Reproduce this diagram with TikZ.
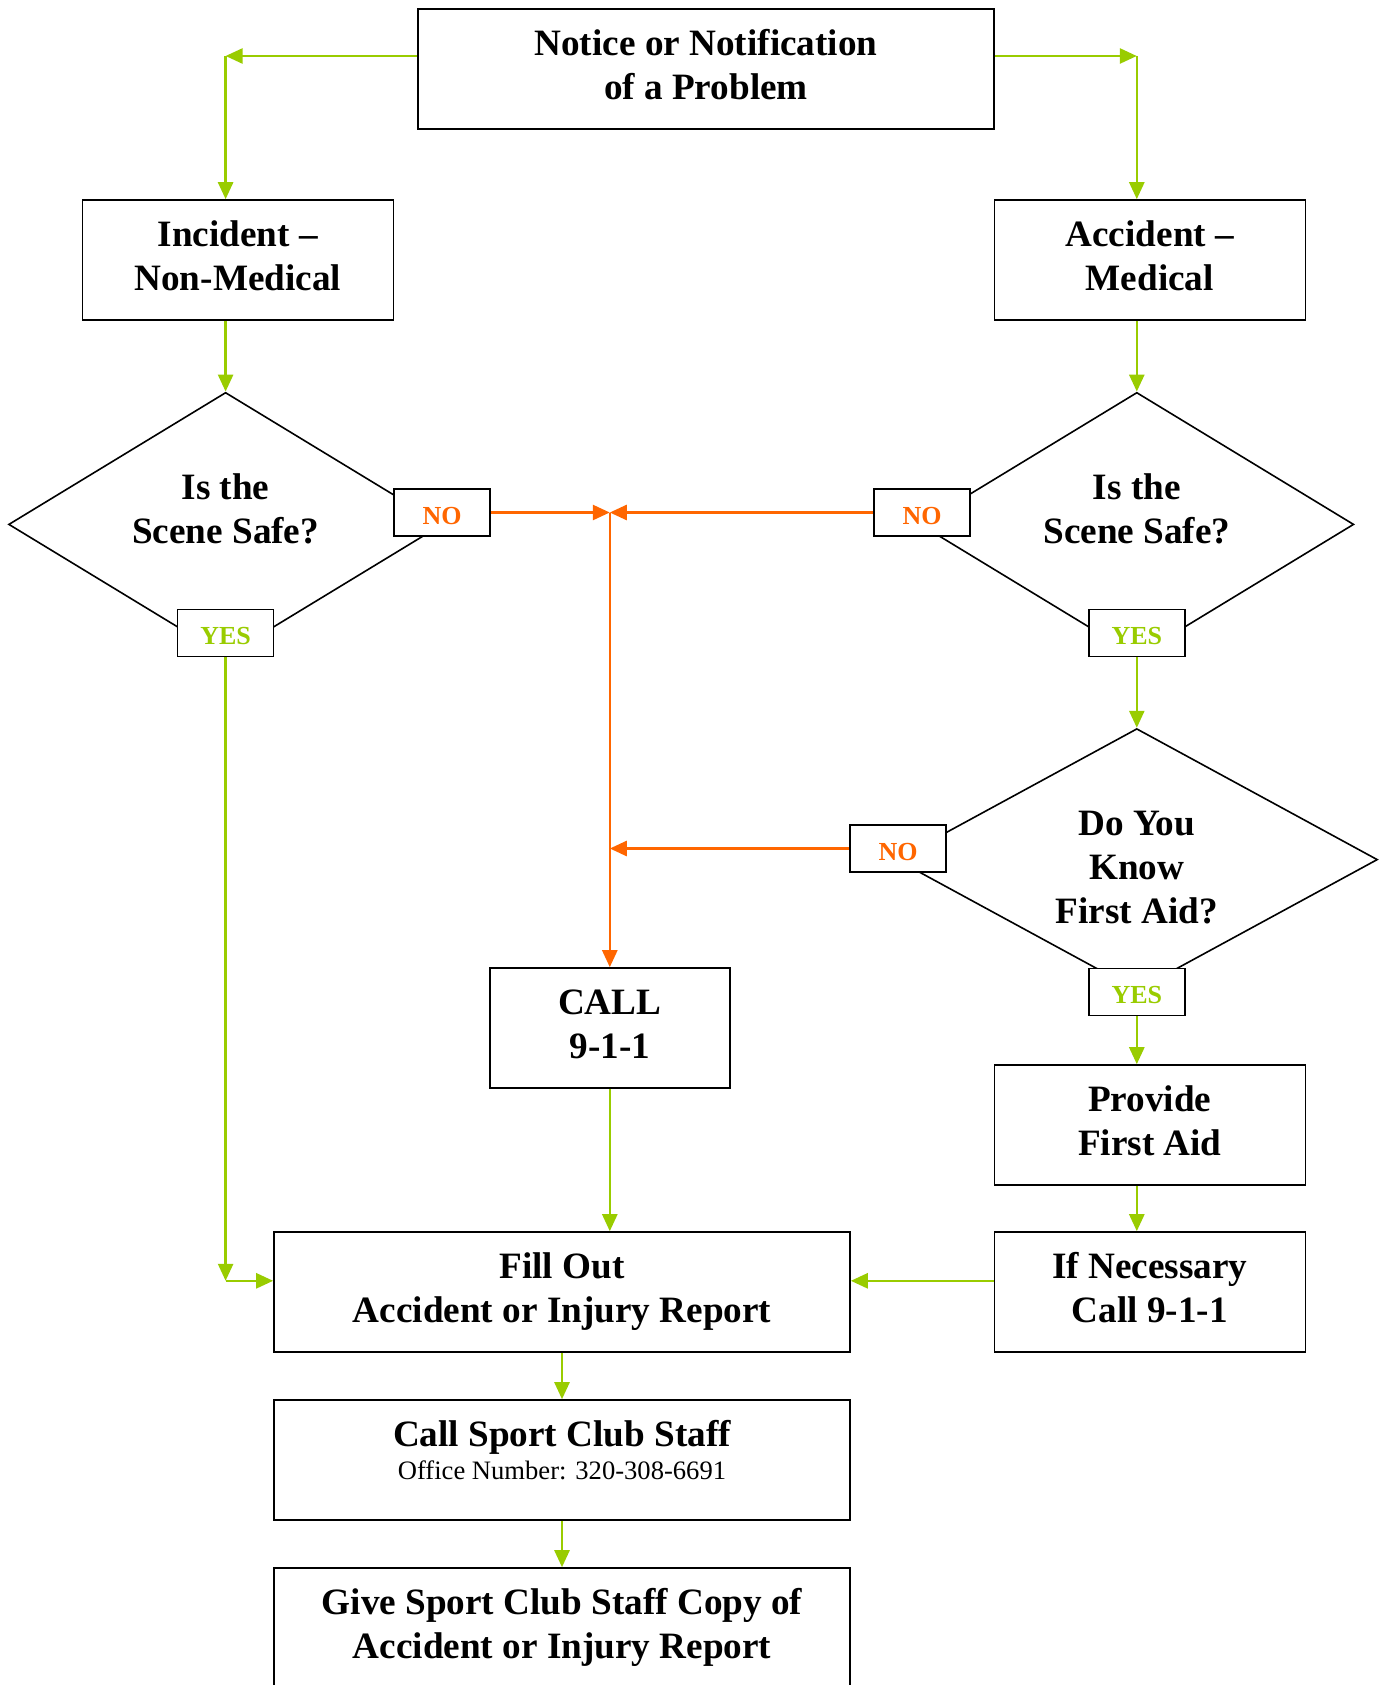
\documentclass[tikz,border=0pt]{standalone}
\usepackage{fontspec}
\setmainfont{Liberation Serif}
\usetikzlibrary{shapes.geometric,arrows.meta}
\definecolor{grn}{HTML}{99CC00}
\definecolor{org}{HTML}{FF6600}
\newcommand\bxt[2]{\parbox[c][60pt][t]{#1}{\centering\rule{0pt}{23.3pt}#2}}
\tikzset{
  box/.style={draw, line width=0.8pt, fill=white, inner sep=0pt,
    font=\fontsize{18.6}{22}\selectfont\bfseries},
  dia/.style={draw, diamond, line width=0.8pt, inner sep=0pt},
  dtxt/.style={align=center, inner sep=0pt, font=\fontsize{18.6}{22}\selectfont\bfseries},
  tag/.style={draw, line width=0.8pt, fill=white, inner sep=0pt, text height=11.8pt, text depth=0pt,
    minimum width=48pt, minimum height=23.5pt, font=\fontsize{13}{15}\selectfont\bfseries},
  yes/.style={tag, text=grn},
  no/.style={tag, text=org},
  garr/.style={draw=grn, line width=1.3pt, -{Triangle[length=8.5pt,width=7.5pt]}},
  oarr/.style={draw=org, line width=1.3pt, -{Triangle[length=8.5pt,width=7.5pt]}}
}
\begin{document}
\begin{tikzpicture}[x=0.5pt,y=-0.5pt]
\useasboundingbox (0,0) rectangle (1384,1685);
\clip (0,0) rectangle (1384,1685);

% boxes
\node[box] (top) at (706,68.8) {\bxt{288pt}{Notice or Notification\\of a Problem}};
\node[box] (inc) at (237.8,260) {\bxt{155.5pt}{Incident --\\Non-Medical}};
\node[box] (acc) at (1149.8,260) {\bxt{155.5pt}{Accident --\\Medical}};
\node[box] (call) at (609.8,1028) {\bxt{120pt}{CALL\\9-1-1}};
\node[box] (prov) at (1149.8,1125) {\bxt{155.5pt}{Provide\\First Aid}};
\node[box] (ifn) at (1149.8,1292) {\bxt{155.5pt}{If Necessary\\Call 9-1-1}};
\node[box] (fill) at (562,1292) {\bxt{288pt}{Fill Out\\Accident or Injury Report}};
\node[box] (staff) at (562,1460) {\bxt{288pt}{Call Sport Club Staff\\[-5.7pt]{\fontsize{13.3}{16}\selectfont\mdseries Office Number: 320-308-6691}}};
\node[box] (give) at (562,1628) {\bxt{288pt}{Give Sport Club Staff Copy of\\Accident or Injury Report}};

% diamonds
\node[dia, minimum width=217pt, minimum height=132pt] (d1) at (225.6,524.4) {};
\node[dtxt] (d1t) at (225.6,509) {Is the\\Scene Safe?};
\node[dia, minimum width=217pt, minimum height=132pt] (d2) at (1136.8,524.4) {};
\node[dtxt] (d2t) at (1136.8,509) {Is the\\Scene Safe?};
\node[dia, minimum width=240.7pt, minimum height=131pt] (d3) at (1136.8,859.6) {};
\node[dtxt] (d3t) at (1136.8,868) {Do You\\Know\\First Aid?};

% tags
\node[no] (no1) at (442,512.5) {NO};
\node[yes] (yes1) at (225.6,633) {YES};
\node[no] (no2) at (922,512.5) {NO};
\node[yes] (yes2) at (1136.8,633) {YES};
\node[no] (no3) at (898,848.5) {NO};
\node[yes] (yes3) at (1136.8,992) {YES};

% junction coordinates
\coordinate (c1) at (225.6,56);
\coordinate (c2) at (1136.8,56);
\coordinate (c3) at (225.6,1280.8);
\coordinate (j1) at (609.8,512.5);
\coordinate (j2) at (609.8,848.5);

% green connectors
\draw[garr] (top.west |- c1) -- (c1);
\draw[garr] (c1) -- (c1 |- inc.north);
\draw[garr] (top.east |- c2) -- (c2);
\draw[garr] (c2) -- (c2 |- acc.north);
\draw[garr] (inc.south -| d1.north) -- (d1.north);
\draw[garr] (acc.south -| d2.north) -- (d2.north);
\draw[garr] (yes2.south) -- (d3.north);
\draw[garr] (yes3.south) -- (prov.north -| yes3.south);
\draw[garr] (prov.south -| yes3.south) -- (ifn.north -| yes3.south);
\draw[garr] (yes1.south) -- (c3);
\draw[garr] (c3) -- (fill.west |- c3);
\draw[garr] (ifn.west |- c3) -- (fill.east |- c3);
\draw[garr] (call.south) -- (call.south |- fill.north);
\draw[garr] (fill.south) -- (staff.north);
\draw[garr] (staff.south) -- (give.north);

% orange connectors
\draw[oarr] (no1.east) -- (j1);
\draw[oarr] (no2.west) -- (j1);
\draw[oarr] (j1) -- (call.north);
\draw[oarr] (no3.west) -- (j2);
\end{tikzpicture}
\end{document}
